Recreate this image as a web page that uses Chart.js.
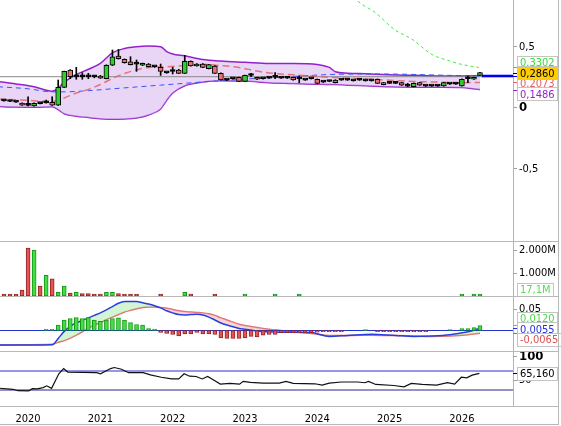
<!DOCTYPE html>
<html>
<head>
<meta charset="utf-8">
<script src="https://cdn.jsdelivr.net/npm/chart.js@4/dist/chart.umd.min.js"></script>
<style>
    body { margin: 0; background: #fff; }
    #wrap { position: relative; width: 561px; height: 426px; overflow: hidden; background: #fff; }
    .line { position: absolute; background: #b8b8b8; z-index: 2; }
</style>
</head>
<body>
<div id="wrap"></div>
<script>
// ---- data (x = month index, 0 = Sep 2019, 4 = Jan 2020) ----
const years = ["2020", "2021", "2022", "2023", "2024", "2025", "2026"];
const yearTickK = [4, 16, 28, 40, 52, 64, 76];

const opens = [0.058, 0.053, 0.048, 0.036, 0.021, 0.015, 0.035, 0.040, 0.045, 0.020,
    0.167, 0.309, 0.253, 0.255, 0.255, 0.255, 0.260, 0.238, 0.348, 0.424,
    0.397, 0.375, 0.359, 0.348, 0.358, 0.337, 0.331, 0.288, 0.299, 0.309,
    0.282, 0.380, 0.342, 0.358, 0.320, 0.342, 0.282, 0.228, 0.239, 0.249,
    0.216, 0.266, 0.249, 0.239, 0.244, 0.248, 0.244, 0.244, 0.249, 0.236,
    0.228, 0.239, 0.233, 0.211, 0.217, 0.205, 0.228, 0.228, 0.222, 0.228,
    0.222, 0.222, 0.233, 0.205, 0.201, 0.201, 0.205, 0.179, 0.172, 0.205,
    0.179, 0.179, 0.179, 0.178, 0.195, 0.195, 0.178, 0.239, 0.233, 0.265];
const highs = [0.062, 0.056, 0.050, 0.040, 0.090, 0.040, 0.038, 0.063, 0.090, 0.227,
    0.300, 0.312, 0.331, 0.287, 0.282, 0.262, 0.265, 0.352, 0.473, 0.478,
    0.400, 0.418, 0.391, 0.366, 0.362, 0.342, 0.358, 0.292, 0.331, 0.315,
    0.429, 0.384, 0.362, 0.362, 0.356, 0.346, 0.286, 0.232, 0.243, 0.252,
    0.268, 0.282, 0.252, 0.243, 0.248, 0.287, 0.248, 0.250, 0.252, 0.260,
    0.232, 0.243, 0.236, 0.215, 0.221, 0.230, 0.232, 0.232, 0.226, 0.232,
    0.226, 0.226, 0.236, 0.208, 0.205, 0.205, 0.208, 0.200, 0.203, 0.208,
    0.183, 0.183, 0.183, 0.208, 0.199, 0.199, 0.236, 0.260, 0.252, 0.290];
const lows = [0.054, 0.049, 0.044, 0.019, 0.015, 0.013, 0.031, 0.038, 0.018, 0.018,
    0.165, 0.238, 0.233, 0.233, 0.238, 0.245, 0.240, 0.236, 0.345, 0.398,
    0.365, 0.350, 0.298, 0.345, 0.334, 0.330, 0.265, 0.282, 0.276, 0.280,
    0.280, 0.340, 0.340, 0.328, 0.318, 0.280, 0.225, 0.222, 0.234, 0.214,
    0.214, 0.254, 0.230, 0.234, 0.239, 0.238, 0.240, 0.240, 0.225, 0.205,
    0.224, 0.235, 0.198, 0.207, 0.213, 0.203, 0.224, 0.224, 0.218, 0.224,
    0.218, 0.218, 0.198, 0.187, 0.197, 0.197, 0.182, 0.172, 0.170, 0.182,
    0.175, 0.175, 0.175, 0.176, 0.191, 0.191, 0.176, 0.205, 0.231, 0.263];
const closes = [0.056, 0.051, 0.046, 0.021, 0.019, 0.036, 0.033, 0.041, 0.020, 0.167,
    0.298, 0.254, 0.256, 0.253, 0.253, 0.253, 0.243, 0.348, 0.418, 0.402,
    0.369, 0.353, 0.357, 0.364, 0.336, 0.335, 0.298, 0.286, 0.297, 0.282,
    0.380, 0.342, 0.358, 0.331, 0.353, 0.282, 0.227, 0.226, 0.237, 0.216,
    0.265, 0.264, 0.233, 0.237, 0.242, 0.251, 0.242, 0.242, 0.227, 0.238,
    0.226, 0.237, 0.200, 0.209, 0.215, 0.227, 0.226, 0.226, 0.220, 0.226,
    0.220, 0.220, 0.200, 0.189, 0.199, 0.199, 0.184, 0.177, 0.200, 0.184,
    0.177, 0.177, 0.177, 0.205, 0.193, 0.193, 0.233, 0.237, 0.249, 0.287];

// volume in millions
const volumes = [0.05, 0.05, 0.05, 0.26, 2.08, 2.00, 0.43, 0.90, 0.75, 0.16,
    0.43, 0.13, 0.16, 0.11, 0.11, 0.05, 0.05, 0.16, 0.16, 0.11,
    0.05, 0.05, 0.05, 0, 0, 0, 0.05, 0, 0, 0,
    0.16, 0.05, 0, 0, 0, 0.05, 0, 0, 0, 0,
    0.05, 0, 0, 0, 0, 0.05, 0, 0, 0, 0.03,
    0, 0, 0, 0, 0, 0, 0, 0, 0, 0,
    0, 0, 0, 0, 0, 0, 0, 0, 0, 0,
    0, 0, 0, 0, 0, 0, 0.03, 0, 0.03, 0.0171];

// bollinger bands
const bbK = [-1, 2, 5, 8, 9, 10, 12, 14, 16, 18, 20, 22, 24, 26, 27, 28, 30, 33, 36, 40, 44, 48, 52, 54, 55, 57, 60, 64, 68, 72, 76, 78, 79];
const bbUpper = [0.215, 0.195, 0.172, 0.135, 0.16, 0.21, 0.27, 0.315, 0.364, 0.45, 0.485, 0.50, 0.506, 0.50, 0.46, 0.44, 0.425,
    0.395, 0.382, 0.372, 0.362, 0.362, 0.355, 0.33, 0.295, 0.283, 0.278, 0.27, 0.265, 0.26, 0.26, 0.262, 0.266];
const bbLower = [0.01, 0.005, 0.003, 0.007, -0.015, -0.05, -0.07, -0.08, -0.09, -0.095, -0.092, -0.085, -0.06, -0.01, 0.06, 0.12, 0.18,
    0.21, 0.22, 0.218, 0.205, 0.198, 0.193, 0.19, 0.19, 0.185, 0.18, 0.172, 0.168, 0.167, 0.165, 0.155, 0.1486];

const maRedK = [-1, 4, 8, 10, 12, 14, 16, 18, 20, 22, 24, 27, 30, 33, 36, 39, 42, 45, 48, 52, 56, 60, 64, 68, 72, 76, 79];
const maRed = [0.07, 0.06, 0.05, 0.08, 0.12, 0.15, 0.19, 0.24, 0.28, 0.31, 0.33, 0.335, 0.345, 0.355, 0.345, 0.33, 0.30, 0.28,
    0.27, 0.255, 0.245, 0.235, 0.225, 0.215, 0.21, 0.205, 0.2073];
const maBlueK = [-1, 4, 8, 10, 14, 18, 22, 26, 30, 34, 38, 42, 46, 50, 54, 58, 64, 70, 74, 79];
const maBlue = [0.172, 0.155, 0.13, 0.13, 0.14, 0.155, 0.17, 0.185, 0.20, 0.215, 0.228, 0.24, 0.25, 0.262, 0.272, 0.276, 0.276,
    0.27, 0.265, 0.26];
const greenK = [57.5, 58.6, 61.6, 64.9, 66.4, 67.9, 69.3, 70.7, 71.8, 73.5, 75.2, 77.3, 78.8];
const greenLine = [0.95, 0.88, 0.78, 0.637, 0.596, 0.555, 0.50, 0.446, 0.418, 0.391, 0.364, 0.342, 0.3302];
const refPrice = 0.254;
const lastPrice = 0.286;
const lastLine = 0.26;

// macd
const macdK = [-1, 4, 8, 9, 10, 11, 12, 13, 14, 15, 16, 17, 18, 19, 20, 21, 22, 23, 24, 25, 26, 27, 28, 29, 30, 31, 32,
    33, 34, 35, 36, 37, 38, 39, 40, 42, 44, 46, 48, 51, 54, 57, 61, 65, 68, 71, 74, 77, 79];
const macdLine = [-0.0345, -0.0345, -0.034, -0.019, -0.002, 0.010, 0.018, 0.024, 0.030, 0.036, 0.042, 0.049, 0.057, 0.065,
    0.069, 0.069, 0.069, 0.066, 0.063, 0.059, 0.054, 0.047, 0.042, 0.038, 0.037, 0.038, 0.039, 0.037, 0.032, 0.025, 0.018,
    0.013, 0.009, 0.005, 0.003, -0.001, -0.003, -0.004, -0.004, -0.005, -0.014, -0.012, -0.009, -0.012, -0.014, -0.013,
    -0.010, -0.003, 0.0055];
const signalLine = [-0.0345, -0.034, -0.033, -0.028, -0.024, -0.018, -0.011, -0.003, 0.006, 0.013, 0.019, 0.026, 0.032, 0.038,
    0.044, 0.048, 0.052, 0.055, 0.056, 0.056, 0.055, 0.053, 0.050, 0.047, 0.045, 0.044, 0.043, 0.042, 0.040, 0.036, 0.030,
    0.025, 0.020, 0.015, 0.012, 0.007, 0.003, 0.000, -0.003, -0.007, -0.012, -0.012, -0.011, -0.012, -0.013, -0.014,
    -0.013, -0.010, -0.0065];
const macdHist = [0, 0, 0, 0, 0, 0, 0, 0.003, 0.003, 0.0127,
    0.0246, 0.0286, 0.031, 0.0286, 0.031, 0.0246, 0.022, 0.0246, 0.0286, 0.030,
    0.0246, 0.019, 0.0143, 0.0127, 0.0048, 0.0032, -0.0048, -0.0071, -0.0095, -0.0127,
    -0.0079, -0.0079, -0.0048, -0.0079, -0.0079, -0.0095, -0.0175, -0.019, -0.019, -0.019,
    -0.0175, -0.0143, -0.015, -0.011, -0.0095, -0.0095, -0.005, -0.005, -0.006, -0.006,
    -0.005, -0.005, -0.004, -0.003, -0.003, -0.003, -0.003, 0, 0, 0,
    0.002, 0, -0.003, -0.003, -0.003, -0.003, -0.003, -0.003, -0.003, -0.003,
    -0.003, 0, 0, 0, 0.0024, 0, 0.0048, 0.0048, 0.007, 0.012];

// rsi
const rsiK = [-1, 1.5, 2.3, 4.1, 4.7, 5.5, 6.5, 7.1, 7.9, 9.1, 9.9, 10.6, 15.4, 16.0, 17.7, 18.3, 19.5, 20.7, 23.1, 24.3, 26.1,
    27.8, 29.0, 29.9, 30.8, 31.9, 32.9, 33.8, 35.0, 35.9, 37.5, 39.1, 39.7, 40.9, 43, 45.7, 46.8, 48.0, 51.6, 52.8, 54.0,
    56, 58.7, 59.9, 60.5, 61.7, 64.7, 66.4, 67.6, 69.4, 71.8, 73.6, 74.8, 75.9, 76.8, 77.7, 78.9];
const rsiValues = [34, 31.5, 28.5, 28.0, 32.9, 32.5, 35.1, 38.8, 33.5, 64.2, 75.1, 67.8, 66.4, 64.2, 75.1, 77.3, 73.6, 66.4, 66.4,
    62.0, 56.9, 53.3, 53.3, 64.2, 59.1, 58.4, 53.3, 58.4, 49.7, 42.4, 43.8, 42.4, 48.2, 46.0, 44.6, 44.6, 48.2, 43.8, 43.1,
    40.2, 44.6, 46.8, 46.8, 45.3, 48.2, 41.7, 39.5, 36.6, 43.8, 41.7, 40.2, 45.3, 42.4, 56.9, 55.5, 61.3, 65.16];

// ---- layout ----
const X_MIN = -0.66;
const X_MAX = 84.48;
const FONT = '"DejaVu Sans Condensed", "Liberation Sans", sans-serif';
const wrap = document.getElementById("wrap");

const pts = (ks, vs) => ks.map((k, i) => ({ x: k, y: vs[i] }));
const flat = (v, from, to) => [{ x: from, y: v }, { x: to, y: v }];
const comma = (v, d) => v.toFixed(d).replace(".", ",");

const makeCanvas = (top, height) => {
    const c = document.createElement("canvas");
    c.width = 561;
    c.height = height;
    c.style.cssText = `position:absolute;left:0;top:${top}px`;
    wrap.appendChild(c);
    return c;
};

const addLine = (x, y, w, h) => {
    const d = document.createElement("div");
    d.className = "line";
    d.style.cssText = `left:${x}px;top:${y}px;width:${w}px;height:${h}px`;
    wrap.appendChild(d);
};

const noPad = (s) => {
    s.paddingTop = 0;
    s.paddingBottom = 0;
    s.paddingLeft = 0;
    s.paddingRight = 0;
};

const xAxis = (show) => ({
    type: "linear", min: X_MIN, max: X_MAX, offset: false, display: show,
    afterFit: (s) => {
        noPad(s);
        if (show) s.height = 18;
    },
    afterBuildTicks: (s) => { s.ticks = yearTickK.map((v) => ({ value: v })); },
    grid: { display: false, drawTicks: false },
    border: { display: false },
    ticks: {
        autoSkip: false, maxRotation: 0, padding: 7, color: "#000",
        font: { family: FONT, size: 11 },
        callback: (v) => years[yearTickK.indexOf(v)]
    }
});

const yAxis = (min, max, tickValues, fmt, boldValue) => ({
    position: "right", min, max,
    afterFit: (s) => {
        noPad(s);
        s.width = 48;
    },
    afterBuildTicks: (s) => { s.ticks = tickValues.map((v) => ({ value: v })); },
    grid: { drawOnChartArea: false, drawTicks: true, tickLength: 4, color: "#a0a0a0" },
    border: { display: true, color: "#b4b4b4" },
    ticks: {
        padding: 2, color: "#000",
        font: (c) => (c.tick && c.tick.value === boldValue
            ? { family: FONT, size: 13, weight: "bold" }
            : { family: FONT, size: 11 }),
        callback: fmt
    }
});

// value tags on the right axis, spread around their mean like the original
const tagPlugin = (items, step) => ({
    id: "tags",
    afterDraw(chart) {
        const ctx = chart.ctx, s = chart.scales.y, a = chart.chartArea;
        const H = 13;
        const list = items.filter((t) => t.text)
            .map((t) => ({ t, p: s.getPixelForValue(t.value) }))
            .sort((m, n) => m.p - n.p);
        let c0 = list.reduce((acc, m) => acc + m.p, 0) / list.length - (list.length - 1) / 2 * step;
        c0 = Math.min(Math.max(c0, a.top + H / 2), a.bottom - H / 2 - (list.length - 1) * step);
        list.forEach((m, i) => { m.c = c0 + i * step; });

        ctx.save();
        items.forEach((t) => {
            const p = Math.round(s.getPixelForValue(t.value)) + 0.5;
            ctx.strokeStyle = t.color;
            ctx.lineWidth = 1;
            ctx.beginPath();
            ctx.moveTo(s.left, p);
            ctx.lineTo(s.left + 4, p);
            ctx.stroke();
        });
        ctx.font = `11px ${FONT}`;
        ctx.textBaseline = "middle";
        list.slice().sort((m, n) => (m.t.z || 0) - (n.t.z || 0)).forEach((m) => {
            const w = Math.ceil(ctx.measureText(m.t.text).width) + 5;
            const x = s.left + 4, y = Math.round(m.c - H / 2);
            ctx.fillStyle = m.t.bg || "#fff";
            ctx.fillRect(x, y, w, H);
            ctx.strokeStyle = "#c4c4c4";
            ctx.strokeRect(x + 0.5, y + 0.5, w, H);
            ctx.fillStyle = m.t.textColor || m.t.color;
            ctx.fillText(m.t.text, x + 3, m.c + 1);
        });
        ctx.restore();
    }
});

const baseOptions = (scales) => ({
    responsive: false, animation: false, events: [],
    layout: { padding: 0 },
    plugins: { legend: { display: false }, tooltip: { enabled: false } },
    scales
});

// ---- main price pane ----
const isUp = closes.map((c, i) => c >= opens[i]);
const bodyColor = closes.map((c, i) => (Math.abs(c - opens[i]) < 0.0035 ? "#000" : (isUp[i] ? "#33cc33" : "#e87272")));

new Chart(makeCanvas(0, 241), {
    type: "bar",
    data: {
        datasets: [
            {
                label: "body", order: 0, grouped: false, barThickness: 5, minBarLength: 2,
                data: opens.map((o, i) => ({ x: i, y: [o, closes[i]] })),
                backgroundColor: bodyColor, borderColor: "#000", borderWidth: 1, borderSkipped: false
            },
            {
                label: "wick", order: 1, grouped: false, barThickness: 1,
                data: lows.map((l, i) => ({ x: i, y: [l, highs[i]] })),
                backgroundColor: "#000"
            },
            {
                type: "line", label: "ma red", order: 3, data: pts(maRedK, maRed),
                borderColor: "rgba(224,100,100,0.85)", borderWidth: 1.5, borderDash: [7, 4],
                pointRadius: 0, cubicInterpolationMode: "monotone"
            },
            {
                type: "line", label: "ma blue", order: 4, data: pts(maBlueK, maBlue),
                borderColor: "#3355ff", borderWidth: 1, borderDash: [5, 4],
                pointRadius: 0, cubicInterpolationMode: "monotone"
            },
            {
                type: "line", label: "green", order: 5, data: pts(greenK, greenLine),
                borderColor: "#3ee83e", borderWidth: 1, borderDash: [3, 3],
                pointRadius: 0, cubicInterpolationMode: "monotone"
            },
            {
                type: "line", label: "ref", order: 6, data: flat(refPrice, X_MIN, X_MAX),
                borderColor: "#8a8a8a", borderWidth: 1, pointRadius: 0
            },
            {
                type: "line", label: "last", order: 2, data: flat(lastLine, 79.3, X_MAX),
                borderColor: "#0000ee", borderWidth: 2.5, pointRadius: 0
            },
            {
                type: "line", label: "bb upper", order: 8, data: pts(bbK, bbUpper),
                borderColor: "#9422cc", borderWidth: 1.5, pointRadius: 0, cubicInterpolationMode: "monotone",
                fill: { target: 8, above: "rgba(215,180,240,0.55)", below: "rgba(215,180,240,0.55)" }
            },
            {
                type: "line", label: "bb lower", order: 9, data: pts(bbK, bbLower),
                borderColor: "#9422cc", borderWidth: 1.5, pointRadius: 0, cubicInterpolationMode: "monotone"
            }
        ]
    },
    options: baseOptions({
        x: xAxis(false),
        y: yAxis(-1.0926, 0.8828, [-0.5, 0, 0.5], (v) => (v === 0 ? "0" : comma(v, 1)), 0)
    }),
    plugins: [tagPlugin([
        { value: 0.3302, text: "0,3302", color: "#33dd33", z: 0 },
        { value: lastPrice, text: "0,2860", color: "#000", bg: "#ffcc00", z: 3 },
        { value: lastLine, color: "#0000ee" },
        { value: 0.2073, text: "0,2073", color: "#e06060", z: 1 },
        { value: 0.1486, text: "0,1486", color: "#9422cc", z: 2 }
    ], 10.5)]
});

// ---- volume pane ----
const volIdx = volumes.map((v, i) => i).filter((i) => volumes[i] > 0);
new Chart(makeCanvas(242, 54), {
    type: "bar",
    data: {
        datasets: [{
            grouped: false, barThickness: 4, minBarLength: 2,
            data: volIdx.map((i) => ({ x: i, y: volumes[i] })),
            backgroundColor: volIdx.map((i) => (isUp[i] ? "#44dd44" : "#e25555")),
            borderColor: volIdx.map((i) => (isUp[i] ? "#119911" : "#992222")),
            borderWidth: 1, borderSkipped: false
        }]
    },
    options: baseOptions({
        x: xAxis(false),
        y: yAxis(0, 2.35, [1, 2], (v) => v.toFixed(3) + "M", null)
    }),
    plugins: [tagPlugin([{ value: 0.0171, text: "17,1M", color: "#55dd55" }], 10.5)]
});

// ---- macd pane ----
const histIdx = macdHist.map((v, i) => i).filter((i) => macdHist[i] !== 0);
new Chart(makeCanvas(297, 54), {
    type: "bar",
    data: {
        datasets: [
            {
                order: 0, grouped: false, barThickness: 4,
                data: histIdx.map((i) => ({ x: i, y: macdHist[i] })),
                backgroundColor: histIdx.map((i) => (macdHist[i] > 0 ? "#44dd44" : "#e25555")),
                borderColor: histIdx.map((i) => (macdHist[i] > 0 ? "#119911" : "#992222")),
                borderWidth: 1, borderSkipped: false
            },
            {
                type: "line", order: 1, data: flat(0, X_MIN, X_MAX),
                borderColor: "#2233cc", borderWidth: 1, pointRadius: 0
            },
            {
                type: "line", order: 2, data: pts(macdK, macdLine),
                borderColor: "#2a3ee0", borderWidth: 1.5, pointRadius: 0, cubicInterpolationMode: "monotone",
                fill: { target: 3, above: "rgba(160,232,160,0.45)", below: "rgba(240,165,165,0.45)" }
            },
            {
                type: "line", order: 3, data: pts(macdK, signalLine),
                borderColor: "#e06a6a", borderWidth: 1.5, pointRadius: 0, cubicInterpolationMode: "monotone"
            }
        ]
    },
    options: baseOptions({
        x: xAxis(false),
        y: yAxis(-0.0488, 0.0798, [0.05], (v) => comma(v, 2), null)
    }),
    plugins: [tagPlugin([
        { value: 0.012, text: "0,0120", color: "#44dd44" },
        { value: 0.0055, text: "0,0055", color: "#2233dd" },
        { value: -0.0065, text: "-0,0065", color: "#e05050" }
    ], 10.5)]
});

// ---- rsi pane ----
new Chart(makeCanvas(352, 72), {
    type: "line",
    data: {
        datasets: [
            {
                data: pts(rsiK, rsiValues),
                borderColor: "#111", borderWidth: 1.2, pointRadius: 0, tension: 0
            },
            { data: flat(70, X_MIN, X_MAX), borderColor: "#2f2fd0", borderWidth: 1, pointRadius: 0 },
            { data: flat(30, X_MIN, X_MAX), borderColor: "#25258a", borderWidth: 1, pointRadius: 0 }
        ]
    },
    options: baseOptions({
        x: xAxis(true),
        y: yAxis(-3.68, 110, [50, 100], (v) => String(v), 100)
    }),
    plugins: [tagPlugin([{ value: 65.16, text: "65,160", color: "#000" }], 10.5)]
});

// pane separators and frame
addLine(0, 241, 559, 1);
addLine(0, 296, 559, 1);
addLine(0, 351, 559, 1);
addLine(0, 406, 559, 1);
addLine(0, 424, 559, 1);
addLine(558, 0, 1, 425);
</script>
</body>
</html>
